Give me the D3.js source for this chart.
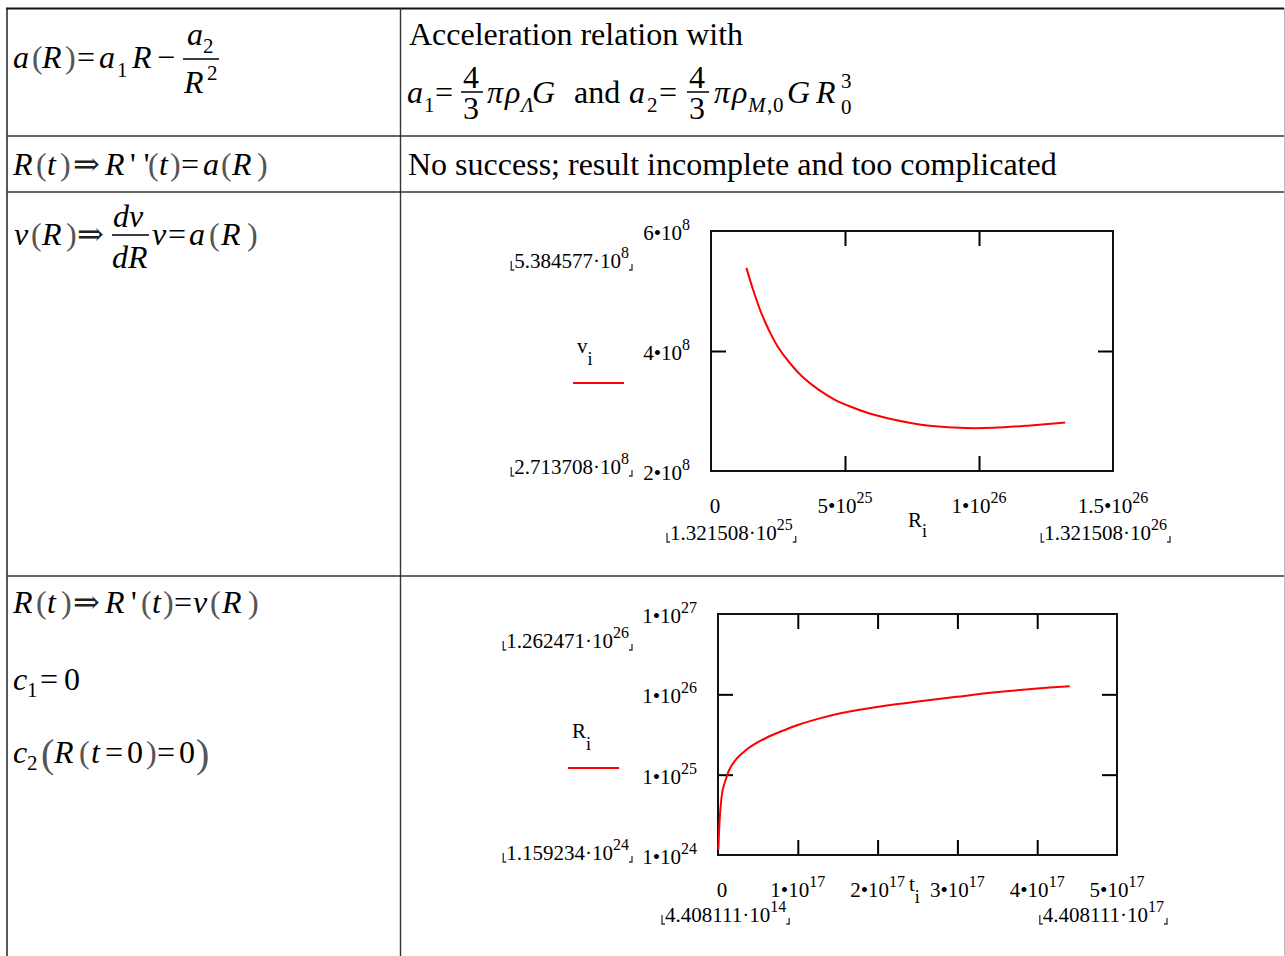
<!DOCTYPE html>
<html>
<head>
<meta charset="utf-8">
<script src="https://cdn.jsdelivr.net/npm/d3@7"></script>
<style>
html, body { margin: 0; padding: 0; background: #fff; }
svg { display: block; }
text { font-family: "Liberation Serif", "Times New Roman", "DejaVu Serif", serif; fill: #000; }
</style>
</head>
<body>
<svg id="page" width="1285" height="956"></svg>
<script>
'use strict';
(function() {

    // v(R) curve
    var vR = [1.3215e25, 1.57e25, 1.87e25, 2.18e25, 2.48e25, 2.94e25, 3.39e25, 4.00e25, 4.61e25,
              5.22e25, 5.83e25, 6.59e25, 7.35e25, 8.26e25, 9.48e25, 1.054e26, 1.191e26, 1.3215e26];
    var vV = [5.385e8, 5.02e8, 4.64e8, 4.33e8, 4.08e8, 3.80e8, 3.58e8, 3.36e8, 3.19e8,
              3.07e8, 2.97e8, 2.88e8, 2.81e8, 2.75e8, 2.716e8, 2.72e8, 2.76e8, 2.81e8];

    // R(t) curve (log y)
    var rT = [4.408e14, 1.66e15, 3.31e15, 6.07e15, 1.05e16, 1.43e16, 2.26e16, 3.37e16, 4.47e16, 6.13e16,
              7.78e16, 1.0e17, 1.275e17, 1.55e17, 1.99e17, 2.43e17, 2.99e17, 3.48e17, 4.0e17, 4.408e17];
    var rR = [1.159e24, 2.30e24, 4.07e24, 6.56e24, 9.18e24, 1.16e25, 1.55e25, 1.97e25, 2.36e25, 2.90e25,
              3.42e25, 4.16e25, 5.02e25, 5.85e25, 6.95e25, 7.95e25, 9.30e25, 1.06e26, 1.18e26, 1.2625e26];

    // ticks and labels
    var vXDomain = [0, 1.5e26], vYDomain = [2e8, 6e8];
    var vXMarks = [5e25, 1e26], vYMarks = [4e8];
    var vXTicks = [0, 5e25, 1e26, 1.5e26];
    var vXTickText = [['0', ''], ['5•10', '25'], ['1•10', '26'], ['1.5•10', '26']];
    var vYTicks = [2e8, 4e8, 6e8];
    var vYTickText = [['2•10', '8'], ['4•10', '8'], ['6•10', '8']];
    var vRangeX = [['1.321508·10', '25'], ['1.321508·10', '26']];
    var vRangeY = [['5.384577·10', '8'], ['2.713708·10', '8']];

    var rXDomain = [0, 5e17], rYDomain = [1e24, 1e27];
    var rXMarks = [1e17, 2e17, 3e17, 4e17], rYMarks = [1e25, 1e26];
    var rXTicks = [0, 1e17, 2e17, 3e17, 4e17, 5e17];
    var rXTickText = [['0', ''], ['1•10', '17'], ['2•10', '17'], ['3•10', '17'], ['4•10', '17'], ['5•10', '17']];
    var rYTicks = [1e24, 1e25, 1e26, 1e27];
    var rYTickText = [['1•10', '24'], ['1•10', '25'], ['1•10', '26'], ['1•10', '27']];
    var rRangeX = [['4.408111·10', '14'], ['4.408111·10', '17']];
    var rRangeY = [['1.262471·10', '26'], ['1.159234·10', '24']];

    var svg = d3.select('#page');

    // ---------- table grid ----------
    var grid = svg.append('g');
    grid.append('line').attr('x1', 6).attr('x2', 1284).attr('y1', 8.5).attr('y2', 8.5)
        .attr('stroke', '#111').attr('stroke-width', 2);
    grid.append('line').attr('x1', 7).attr('x2', 7).attr('y1', 8).attr('y2', 956)
        .attr('stroke', '#222').attr('stroke-width', 1.5);
    grid.append('line').attr('x1', 1284.5).attr('x2', 1284.5).attr('y1', 8).attr('y2', 956)
        .attr('stroke', '#bbb').attr('stroke-width', 1);
    grid.append('line').attr('x1', 400.5).attr('x2', 400.5).attr('y1', 8).attr('y2', 956)
        .attr('stroke', '#333').attr('stroke-width', 1.4);
    [136, 192, 576].forEach(function(yy) {
        grid.append('line').attr('x1', 7).attr('x2', 1284).attr('y1', yy).attr('y2', yy)
            .attr('stroke', '#333').attr('stroke-width', 1.4);
    });

    // ---------- formulas ----------
    var IT = {it: true}, N = {}, PAR = {par: true}, SUB = {size: 21}, SUBIT = {size: 21, it: true};
    var ARROW = {fill: '#222'};
    var fm = svg.append('g');

    function put(x, y, s, o) {
        o = o || {};
        fm.append('text').attr('x', x).attr('y', y).text(s)
            .style('font-size', (o.size || 32) + 'px')
            .style('font-style', o.it ? 'italic' : 'normal')
            .style('fill', o.par ? '#555' : (o.fill || '#000'));
    }
    function bar(x1, x2, y) {
        fm.append('line').attr('x1', x1).attr('x2', x2).attr('y1', y).attr('y2', y)
            .attr('stroke', '#000').attr('stroke-width', 1.5);
    }

    // row 1
    put(13, 68, 'a', IT); put(32, 68, '(', PAR); put(42, 68, 'R', IT); put(65, 68, ')', PAR);
    put(77, 68, '=', N); put(99, 68, 'a', IT); put(117, 77, '1', SUB); put(132, 68, 'R', IT);
    put(157, 68, '−', N);
    put(187, 45, 'a', IT); put(203, 53, '2', SUB); bar(183, 219, 59);
    put(184, 93, 'R', IT); put(207, 80, '2', SUB);

    put(409, 45, 'Acceleration relation with', N);
    put(407, 103, 'a', IT); put(424, 112, '1', SUB); put(435, 103, '=', N);
    put(463, 88, '4', N); bar(461, 483, 92); put(463, 119, '3', N);
    put(487, 103, 'π', IT); put(505, 103, 'ρ', IT); put(521, 112, 'Λ', SUBIT); put(532, 103, 'G', IT);
    put(574, 103, 'and', N);
    put(629, 103, 'a', IT); put(647, 112, '2', SUB); put(659, 103, '=', N);
    put(689, 88, '4', N); bar(687, 709, 92); put(689, 119, '3', N);
    put(714, 103, 'π', IT); put(732, 103, 'ρ', IT);
    put(748, 112, 'M', SUBIT); put(767, 112, ',', SUB); put(773, 112, '0', SUB);
    put(787, 103, 'G', IT); put(816, 103, 'R', IT); put(841, 88, '3', SUB); put(841, 114, '0', SUB);

    // row 2
    put(408, 175, 'No success; result incomplete and too complicated', N);
    put(13, 175, 'R', IT); put(36, 175, '(', PAR); put(47, 175, 't', IT); put(60, 175, ')', PAR);
    put(73, 175, '⇒', ARROW); put(105, 175, 'R', IT); put(130, 175, "' '", N);
    put(148, 175, '(', PAR); put(159, 175, 't', IT); put(170, 175, ')', PAR);
    put(181, 175, '=', N); put(203, 175, 'a', IT); put(221, 175, '(', PAR); put(232, 175, 'R', IT);
    put(257, 175, ')', PAR);

    // row 3
    put(14, 245, 'v', IT); put(31, 245, '(', PAR); put(42, 245, 'R', IT); put(66, 245, ')', PAR);
    put(77, 245, '⇒', ARROW);
    put(113, 227, 'dv', IT); bar(112, 149, 235); put(112, 268, 'dR', IT);
    put(152, 245, 'v', IT); put(168, 245, '=', N); put(189, 245, 'a', IT); put(209, 245, '(', PAR);
    put(221, 245, 'R', IT); put(247, 245, ')', PAR);

    // row 4
    put(13, 613, 'R', IT); put(36, 613, '(', PAR); put(47, 613, 't', IT); put(61, 613, ')', PAR);
    put(73, 613, '⇒', ARROW); put(105, 613, 'R', IT); put(131, 613, "'", N);
    put(141, 613, '(', PAR); put(152, 613, 't', IT); put(163, 613, ')', PAR);
    put(174, 613, '=', N); put(193, 613, 'v', IT); put(210, 613, '(', PAR); put(222, 613, 'R', IT);
    put(248, 613, ')', PAR);

    put(13, 690, 'c', IT); put(27, 697, '1', SUB); put(40, 690, '=', N); put(64, 690, '0', N);

    put(13, 763, 'c', IT); put(27, 770, '2', SUB); put(41, 767, '(', {par: true, size: 40});
    put(54, 763, 'R', IT); put(79, 763, '(', PAR); put(91, 763, 't', IT); put(105, 763, '=', N);
    put(127, 763, '0', N); put(146, 763, ')', PAR); put(157, 763, '=', N); put(179, 763, '0', N);
    put(196, 767, ')', {par: true, size: 40});

    // ---------- plots ----------
    function sci(g, x, y, pair, anchor) {
        var t = g.append('text').attr('x', x).attr('y', y)
            .attr('text-anchor', anchor).style('font-size', '21px');
        t.append('tspan').text(pair[0]);
        if (pair[1]) t.append('tspan').attr('dy', -10).style('font-size', '16px').text(pair[1]);
        return t;
    }
    function corners(g, t, y) {
        var b = t.node().getBBox();
        var l = b.x - 3, r = b.x + b.width + 3;
        g.append('path').attr('d', 'M' + l + ',' + (y - 7) + 'V' + (y + 2) + 'h3')
            .attr('fill', 'none').attr('stroke', '#333').attr('stroke-width', 1.3);
        g.append('path').attr('d', 'M' + r + ',' + (y - 4) + 'V' + (y + 2) + 'h-3')
            .attr('fill', 'none').attr('stroke', '#333').attr('stroke-width', 1.3);
    }
    function named(g, x, y, main, sub, subDy) {
        var t = g.append('text').attr('x', x).attr('y', y).style('font-size', '21px');
        t.append('tspan').text(main);
        t.append('tspan').attr('dy', subDy).style('font-size', '18px').text(sub);
    }

    function drawPlot(p) {
        var g = svg.append('g');
        var x = p.x.domain(p.xDomain).range([p.left, p.right]);
        var y = p.y.domain(p.yDomain).range([p.bottom, p.top]);

        var marks = [
            [d3.axisBottom(x).tickValues(p.xMarks), 'translate(0,' + p.bottom + ')'],
            [d3.axisTop(x).tickValues(p.xMarks), 'translate(0,' + p.top + ')'],
            [d3.axisLeft(y).tickValues(p.yMarks), 'translate(' + p.left + ',0)'],
            [d3.axisRight(y).tickValues(p.yMarks), 'translate(' + p.right + ',0)']
        ];
        marks.forEach(function(m) {
            var a = g.append('g').attr('transform', m[1])
                .call(m[0].tickSize(-15).tickFormat(''));
            a.select('.domain').remove();
            a.selectAll('line').attr('stroke', '#000').attr('stroke-width', 2);
        });

        g.append('rect').attr('x', p.left).attr('y', p.top)
            .attr('width', p.right - p.left).attr('height', p.bottom - p.top)
            .attr('fill', 'none').attr('stroke', '#111').attr('stroke-width', 2);

        var line = d3.line()
            .x(function(i) { return x(p.xs[i]); })
            .y(function(i) { return y(p.ys[i]); })
            .curve(d3.curveCatmullRom.alpha(0.5));
        g.append('path').datum(d3.range(p.xs.length)).attr('d', line)
            .attr('fill', 'none').attr('stroke', '#f00').attr('stroke-width', 2);

        // tick labels
        p.yTicks.forEach(function(v, i) {
            sci(g, p.left - 21, y(v) + 9, p.yTickText[i], 'end');
        });
        p.xTicks.forEach(function(v, i) {
            var pair = p.xTickText[i];
            sci(g, x(v) + (pair[1] ? 0 : 4), p.bottom + 42, pair, 'middle');
        });

        // range labels
        var t;
        t = sci(g, 629, p.yRangeAt[0], p.yRange[0], 'end'); corners(g, t, p.yRangeAt[0]);
        t = sci(g, 629, p.yRangeAt[1], p.yRange[1], 'end'); corners(g, t, p.yRangeAt[1]);
        t = sci(g, p.xRangeAt[0], p.xRangeY, p.xRange[0], 'start'); corners(g, t, p.xRangeY);
        t = sci(g, p.xRangeAt[1], p.xRangeY, p.xRange[1], 'end'); corners(g, t, p.xRangeY);

        // axis names and legend
        named(g, p.xName[0], p.xName[1], p.xName[2], 'i', p.xName[3]);
        named(g, p.legend[0], p.legend[1], p.legend[2], 'i', 12);
        g.append('line').attr('x1', p.legend[0] - 4).attr('x2', p.legend[0] + 47)
            .attr('y1', p.legend[1] + 30).attr('y2', p.legend[1] + 30)
            .attr('stroke', '#f00').attr('stroke-width', 2);
    }

    drawPlot({
        x: d3.scaleLinear(), y: d3.scaleLinear(),
        xDomain: vXDomain, yDomain: vYDomain,
        left: 711, right: 1113, top: 231, bottom: 471,
        xs: vR, ys: vV,
        xMarks: vXMarks, yMarks: vYMarks,
        xTicks: vXTicks, xTickText: vXTickText,
        yTicks: vYTicks, yTickText: vYTickText,
        yRange: vRangeY, yRangeAt: [268, 474],
        xRange: vRangeX, xRangeAt: [670, 1167], xRangeY: 540,
        xName: [908, 527, 'R', 10],
        legend: [577, 353, 'v']
    });

    drawPlot({
        x: d3.scaleLinear(), y: d3.scaleLog(),
        xDomain: rXDomain, yDomain: rYDomain,
        left: 718, right: 1117, top: 614, bottom: 855,
        xs: rT, ys: rR,
        xMarks: rXMarks, yMarks: rYMarks,
        xTicks: rXTicks, xTickText: rXTickText,
        yTicks: rYTicks, yTickText: rYTickText,
        yRange: rRangeY, yRangeAt: [648, 860],
        xRange: rRangeX, xRangeAt: [665, 1164], xRangeY: 922,
        xName: [909, 891, 't', 12],
        legend: [572, 738, 'R']
    });

})();
</script>
</body>
</html>
